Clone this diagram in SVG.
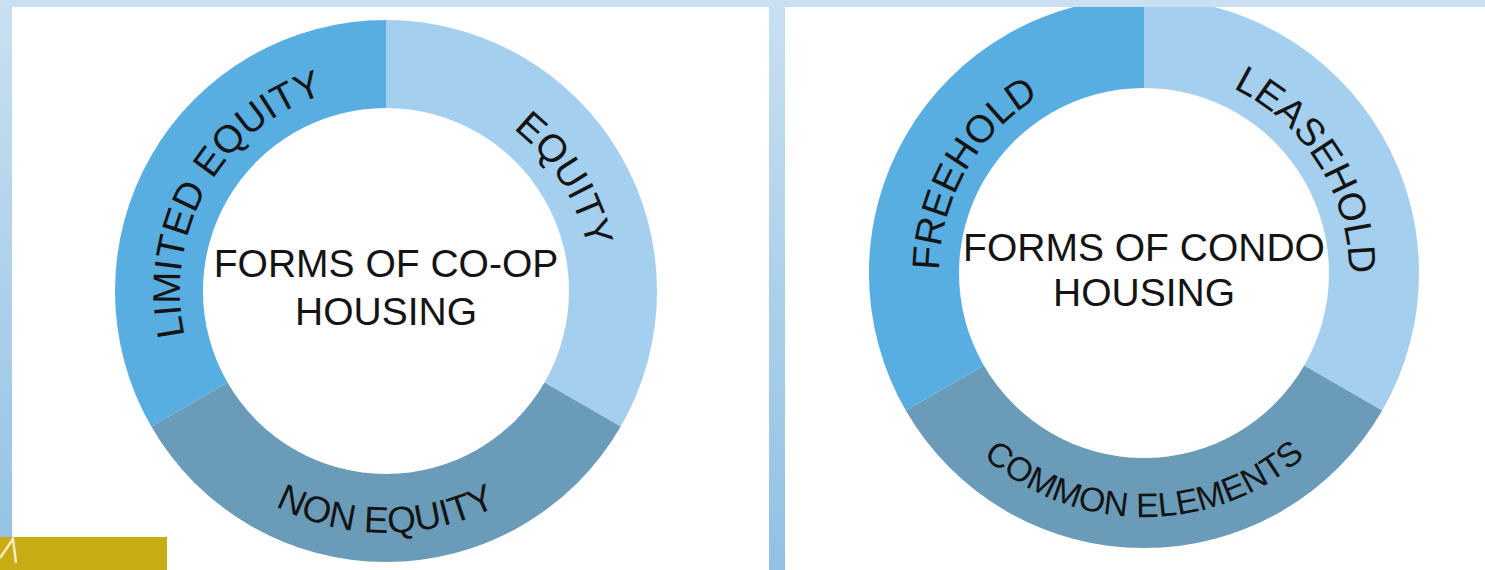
<svg xmlns="http://www.w3.org/2000/svg" width="1485" height="570" viewBox="0 0 1485 570">
  <defs>
    <linearGradient id="frameGrad" x1="0" y1="0" x2="0" y2="1">
      <stop offset="0" stop-color="#C9E0F1"/>
      <stop offset="1" stop-color="#92C1E4"/>
    </linearGradient>
    <style>
      .seg-mid { fill: #58AEE0; }
      .seg-light { fill: #A5CFEE; }
      .seg-dark { fill: #6A9CBA; }
      .ring-label { font-family: "Liberation Sans", Arial, sans-serif; fill: #141414; }
      .center-label { font-family: "Liberation Sans", Arial, sans-serif; font-size: 39px; fill: #141414; text-anchor: middle; }
    </style>
    <!-- baseline arcs for the ring labels -->
    <path id="arcLimited" d="M253.6,448.8 A206,206 0 0 1 456.5,97.4"/>
    <path id="arcEquity" d="M308.8,100 A206,206 0 0 1 523.8,444.1"/>
    <path id="arcNonEquity" d="M147.7,333 A242,242 0 0 0 624.3,333"/>
    <path id="arcFreehold" d="M1012.2,430 A205,205 0 0 1 1214.1,80.4"/>
    <path id="arcLeasehold" d="M1067.2,82.9 A205,205 0 0 1 1281.2,425.3"/>
    <path id="arcCommon" d="M903.7,315.4 A244,244 0 0 0 1384.3,315.4"/>
  </defs>

  <!-- frame and panels -->
  <rect x="0" y="0" width="1485" height="570" fill="url(#frameGrad)"/>
  <rect x="12" y="7" width="757" height="563" fill="#FFFFFF"/>
  <rect x="785" y="7" width="700" height="563" fill="#FFFFFF"/>

  <!-- co-op ring -->
  <g id="coop-equity">
    <path class="seg-light" d="M386,20 A271,271 0 0 1 620.7,426.5 L544.5,382.5 A183,183 0 0 0 386,108 Z"/>
    <text class="ring-label" font-size="38.5"><textPath href="#arcEquity" startOffset="50%" text-anchor="middle">EQUITY</textPath></text>
  </g>
  <g id="coop-non-equity">
    <path class="seg-dark" d="M620.7,426.5 A271,271 0 0 1 151.3,426.5 L227.5,382.5 A183,183 0 0 0 544.5,382.5 Z"/>
    <text class="ring-label" font-size="37"><textPath href="#arcNonEquity" startOffset="50%" text-anchor="middle">NON EQUITY</textPath></text>
  </g>
  <g id="coop-limited-equity">
    <path class="seg-mid" d="M151.3,426.5 A271,271 0 0 1 386,20 L386,108 A183,183 0 0 0 227.5,382.5 Z"/>
    <text class="ring-label" font-size="38.5"><textPath href="#arcLimited" startOffset="50%" text-anchor="middle">LIMITED EQUITY</textPath></text>
  </g>
  <g id="coop-center">
    <text class="center-label" x="386" y="277">FORMS OF CO-OP</text>
    <text class="center-label" x="386" y="325">HOUSING</text>
  </g>

  <!-- condo ring -->
  <g id="condo-leasehold">
    <path class="seg-light" d="M1144,-2 A275,275 0 0 1 1382.2,410.5 L1304.2,365.5 A185,185 0 0 0 1144,88 Z"/>
    <text class="ring-label" font-size="38.5"><textPath href="#arcLeasehold" startOffset="50%" text-anchor="middle">LEASEHOLD</textPath></text>
  </g>
  <g id="condo-common-elements">
    <path class="seg-dark" d="M1382.2,410.5 A275,275 0 0 1 905.8,410.5 L983.8,365.5 A185,185 0 0 0 1304.2,365.5 Z"/>
    <text class="ring-label" font-size="34"><textPath href="#arcCommon" startOffset="50%" text-anchor="middle">COMMON ELEMENTS</textPath></text>
  </g>
  <g id="condo-freehold">
    <path class="seg-mid" d="M905.8,410.5 A275,275 0 0 1 1144,-2 L1144,88 A185,185 0 0 0 983.8,365.5 Z"/>
    <text class="ring-label" font-size="38.5"><textPath href="#arcFreehold" startOffset="50%" text-anchor="middle">FREEHOLD</textPath></text>
  </g>
  <g id="condo-center">
    <text class="center-label" x="1144" y="261">FORMS OF CONDO</text>
    <text class="center-label" x="1144" y="306">HOUSING</text>
  </g>

  <!-- top strip of the frame -->
  <rect x="0" y="0" width="1485" height="7" fill="#C9E0F1"/>

  <!-- gold footer tab with cut-off mark -->
  <rect x="0" y="537" width="167" height="33" fill="#C8AC14"/>
  <polyline points="0,558 13,539 16,563" fill="none" stroke="#F3EBC2" stroke-width="2.5"/>
</svg>
